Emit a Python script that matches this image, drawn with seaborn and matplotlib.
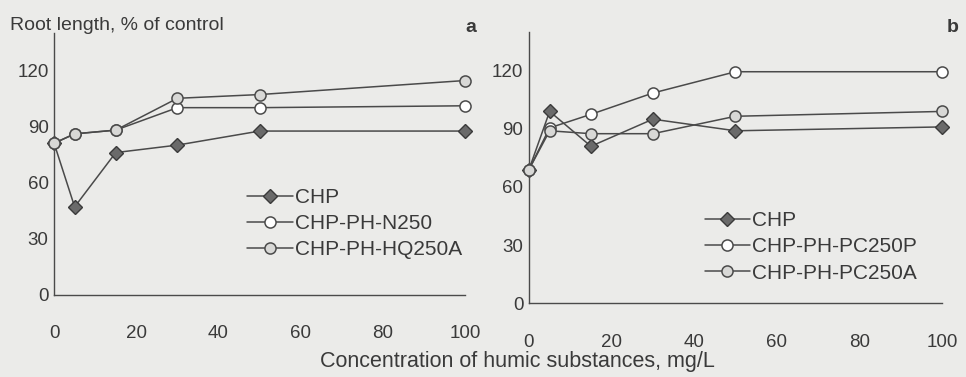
import matplotlib
matplotlib.use("Agg")
import matplotlib.pyplot as plt
from matplotlib import font_manager
import pandas as pd
import seaborn as sns

# concentrations, mg/L
conc = [0, 5, 15, 30, 50, 100]

# panel a
a_chp = [81, 47, 76, 80, 87.5, 87.5]
a_n250 = [81, 86, 88, 100, 100, 101]
a_hq250a = [81, 86, 88, 105, 107, 114.5]

# panel b
b_chp = [69, 99, 81, 95, 89, 91]
b_pc250p = [69, 90.5, 97.5, 108.5, 119.5, 119.5]
b_pc250a = [69, 89, 87.5, 87.5, 96.5, 99]

yticks = [0, 30, 60, 90, 120]
xticks = [0, 20, 40, 60, 80, 100]

BG = "#ebebe9"
INK = "#3a3a3a"

sns.set_theme(style="white")

# narrow face if one is installed, like the scanned original
names = {f.name for f in font_manager.fontManager.ttflist}
family = "Liberation Sans"
for cand in ["Liberation Sans Narrow", "DejaVu Sans Condensed"]:
    if cand in names:
        family = cand
        break
plt.rcParams["font.family"] = [family, "DejaVu Sans"]
plt.rcParams["text.color"] = INK

styles = {
    "chp": dict(marker="D", markersize=7.5, markerfacecolor="#6a6a6a",
                markeredgecolor="#3a3a3a", markeredgewidth=1.0),
    "open": dict(marker="o", markersize=8, markerfacecolor="white",
                 markeredgecolor="#4a4a4a", markeredgewidth=1.1),
    "grey": dict(marker="o", markersize=8, markerfacecolor="#d8d8d6",
                 markeredgecolor="#4a4a4a", markeredgewidth=1.1),
}

fig = plt.figure(figsize=(9.66, 3.77), dpi=100, facecolor=BG)
ax_a = fig.add_axes([0.056, 0.218, 0.4255, 0.695])
ax_b = fig.add_axes([0.5476, 0.196, 0.4275, 0.719])

panels = [
    (ax_a, [("CHP", a_chp, "chp"), ("CHP-PH-N250", a_n250, "open"),
            ("CHP-PH-HQ250A", a_hq250a, "grey")], (0.45, 0.44)),
    (ax_b, [("CHP", b_chp, "chp"), ("CHP-PH-PC250P", b_pc250p, "open"),
            ("CHP-PH-PC250A", b_pc250a, "grey")], (0.405, 0.37)),
]

for ax, series, leg_pos in panels:
    ax.set_facecolor(BG)
    for name, vals, st in series:
        df = pd.DataFrame({"conc": conc, "val": vals})
        sns.lineplot(data=df, x="conc", y="val", ax=ax, color="#4a4a4a",
                     linewidth=1.1, label=name, zorder=3 if st != "chp" else 2,
                     clip_on=False, **styles[st])
    ax.set_xlim(0, 100)
    ax.set_ylim(0, 140)
    ax.set_xticks(xticks)
    ax.set_yticks(yticks)
    ax.set_xlabel("")
    ax.set_ylabel("")
    for s in ["top", "right"]:
        ax.spines[s].set_visible(False)
    for s in ["left", "bottom"]:
        ax.spines[s].set_color("#4a4a4a")
        ax.spines[s].set_linewidth(1.0)
    ax.tick_params(axis="x", direction="in", length=3, width=0.8,
                   pad=22, labelsize=13.5, colors=INK)
    ax.tick_params(axis="y", direction="out", length=3, width=0.8,
                   pad=1, labelsize=13.5, colors=INK)
    leg = ax.legend(loc="upper left", bbox_to_anchor=leg_pos, frameon=False,
                    fontsize=15, handlelength=2.2, handletextpad=0.1,
                    labelspacing=0.35, borderaxespad=0)
    for t in leg.get_texts():
        t.set_color(INK)

# panel tags
fig.text(0.487, 0.928, "a", fontsize=14, fontweight="bold",
         ha="center", va="center", color=INK)
fig.text(0.986, 0.928, "b", fontsize=14, fontweight="bold",
         ha="center", va="center", color=INK)

fig.text(0.010, 0.933, "Root length, % of control", fontsize=14,
         ha="left", va="center", color=INK)
fig.text(0.536, 0.04, "Concentration of humic substances, mg/L", fontsize=15.5,
         ha="center", va="center", color=INK)

fig.savefig("out.png", dpi=100, facecolor=BG)
